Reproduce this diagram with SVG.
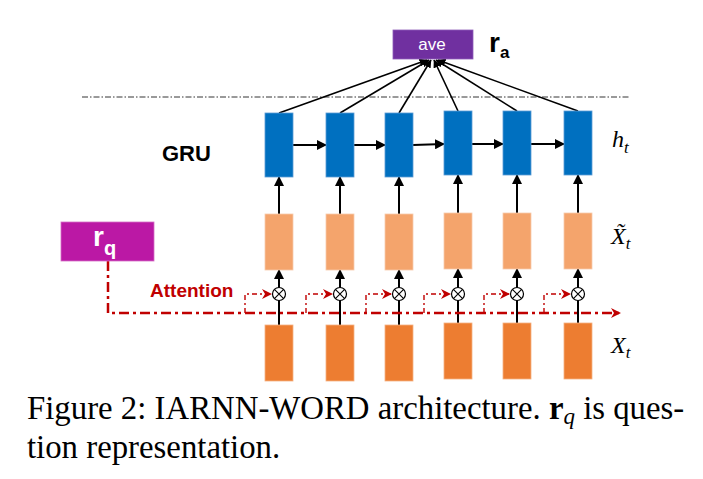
<svg xmlns="http://www.w3.org/2000/svg" width="703" height="479" viewBox="0 0 703 479">
<style>
.blue{fill:#0070C0;stroke:#5B9BD5;stroke-width:0.8}
.light{fill:#F4A46C;stroke:#F8CBAD;stroke-width:0.8}
.dark{fill:#ED7D31;stroke:#F4B183;stroke-width:0.8}
.blk{stroke:#000;stroke-width:2;fill:none}
.thin{stroke:#000;stroke-width:1.6;fill:none}
.red{stroke:#C00000;stroke-width:2.5;fill:none;stroke-dasharray:10 4 3 4}
.redb{stroke:#C00000;stroke-width:1.4;fill:none;stroke-dasharray:5 3 2 3}
.mul{fill:#fff;stroke:#000;stroke-width:1.2}
.sans{font-family:"Liberation Sans",Arial,sans-serif}
.math{font-family:"Liberation Serif","Times New Roman",serif;font-style:italic}
.cap{font-family:"Liberation Serif","Times New Roman",serif;font-size:32.8px;fill:#000}
</style>
<defs>
<marker id="ah" markerWidth="10" markerHeight="10" refX="9" refY="5" orient="auto" markerUnits="userSpaceOnUse">
<path d="M0,0 L10,5 L0,10 z" fill="#000"/>
</marker>
<marker id="ahs" markerWidth="8" markerHeight="8" refX="7.5" refY="4" orient="auto" markerUnits="userSpaceOnUse">
<path d="M0,0 L8,4 L0,8 z" fill="#000"/>
</marker>
<marker id="rah" markerWidth="11" markerHeight="10" refX="10" refY="5" orient="auto" markerUnits="userSpaceOnUse">
<path d="M0,0 L10,5 L0,10 L3,5 z" fill="#C00000"/>
</marker>
<g id="mulsym">
<circle class="mul" cx="0" cy="0" r="6.5"/>
<path d="M-4.6,-4.6 L4.6,4.6 M4.6,-4.6 L-4.6,4.6" stroke="#000" stroke-width="1.1"/>
</g>
</defs>
<rect width="703" height="479" fill="#fff"/>

<line x1="82" y1="97" x2="630" y2="97" stroke="#000" stroke-width="0.8" stroke-dasharray="6 2 1.5 2"/>

<g id="connectors">
<line class="thin" x1="279" y1="113" x2="427" y2="60" marker-end="url(#ahs)"/>
<line class="thin" x1="340" y1="113" x2="429" y2="60" marker-end="url(#ahs)"/>
<line class="thin" x1="399" y1="113" x2="431" y2="60" marker-end="url(#ahs)"/>
<line class="thin" x1="458" y1="111" x2="434" y2="60" marker-end="url(#ahs)"/>
<line class="thin" x1="517" y1="111" x2="436" y2="60" marker-end="url(#ahs)"/>
<line class="thin" x1="578" y1="111" x2="438" y2="60" marker-end="url(#ahs)"/>
<line class="blk" x1="293" y1="145" x2="326" y2="145" marker-end="url(#ah)"/>
<line class="blk" x1="354" y1="145" x2="385" y2="145" marker-end="url(#ah)"/>
<line class="blk" x1="413" y1="145" x2="444" y2="144" marker-end="url(#ah)"/>
<line class="blk" x1="472" y1="144" x2="503" y2="144" marker-end="url(#ah)"/>
<line class="blk" x1="531" y1="144" x2="564" y2="144" marker-end="url(#ah)"/>
<line class="blk" x1="279" y1="214" x2="279" y2="177" marker-end="url(#ah)"/>
<line class="blk" x1="340" y1="214" x2="340" y2="177" marker-end="url(#ah)"/>
<line class="blk" x1="399" y1="214" x2="399" y2="177" marker-end="url(#ah)"/>
<line class="blk" x1="458" y1="213" x2="458" y2="175" marker-end="url(#ah)"/>
<line class="blk" x1="517" y1="213" x2="517" y2="175" marker-end="url(#ah)"/>
<line class="blk" x1="578" y1="213" x2="578" y2="175" marker-end="url(#ah)"/>
<line class="blk" x1="279" y1="325" x2="279" y2="270" marker-end="url(#ah)"/>
<line class="blk" x1="340" y1="325" x2="340" y2="270" marker-end="url(#ah)"/>
<line class="blk" x1="399" y1="325" x2="399" y2="270" marker-end="url(#ah)"/>
<line class="blk" x1="458" y1="323" x2="458" y2="269" marker-end="url(#ah)"/>
<line class="blk" x1="517" y1="323" x2="517" y2="269" marker-end="url(#ah)"/>
<line class="blk" x1="578" y1="323" x2="578" y2="269" marker-end="url(#ah)"/>
<path class="red" d="M108,261 V313 H621" marker-end="url(#rah)"/>
<path class="redb" d="M245,313 V294 H272" marker-end="url(#rah)"/>
<path class="redb" d="M306,313 V294 H333" marker-end="url(#rah)"/>
<path class="redb" d="M366,313 V294 H392" marker-end="url(#rah)"/>
<path class="redb" d="M424,313 V294 H451" marker-end="url(#rah)"/>
<path class="redb" d="M484,313 V294 H510" marker-end="url(#rah)"/>
<path class="redb" d="M544,313 V294 H571" marker-end="url(#rah)"/>
</g>

<g id="ave">
<rect x="393" y="30" width="80" height="29" fill="#7030A0" stroke="#8E5CB8" stroke-width="0.8"/>
<text x="432" y="50" text-anchor="middle" class="sans" font-size="17" fill="#fff">ave</text>
</g>
<g id="ra-label">
<text x="489" y="52" class="sans" font-size="28" font-weight="bold" fill="#000">r<tspan font-size="17" dy="6">a</tspan></text>
</g>

<g id="gru-label">
<text x="162" y="161" class="sans" font-size="22" font-weight="bold" fill="#000">GRU</text>
</g>

<g id="h-nodes">
<rect class="blue" x="265" y="113" width="28" height="64"/>
<rect class="blue" x="326" y="113" width="28" height="64"/>
<rect class="blue" x="385" y="113" width="28" height="64"/>
<rect class="blue" x="444" y="111" width="28" height="64"/>
<rect class="blue" x="503" y="111" width="28" height="64"/>
<rect class="blue" x="564" y="111" width="28" height="64"/>
</g>
<g id="xt-tilde-nodes">
<rect class="light" x="265" y="214" width="28" height="56"/>
<rect class="light" x="326" y="214" width="28" height="56"/>
<rect class="light" x="385" y="214" width="28" height="56"/>
<rect class="light" x="444" y="213" width="28" height="56"/>
<rect class="light" x="503" y="213" width="28" height="56"/>
<rect class="light" x="564" y="213" width="28" height="56"/>
</g>
<g id="xt-nodes">
<rect class="dark" x="265" y="325" width="28" height="56"/>
<rect class="dark" x="326" y="325" width="28" height="56"/>
<rect class="dark" x="385" y="325" width="28" height="56"/>
<rect class="dark" x="444" y="323" width="28" height="56"/>
<rect class="dark" x="503" y="323" width="28" height="56"/>
<rect class="dark" x="564" y="323" width="28" height="56"/>
</g>
<g id="multiply-nodes">
<use href="#mulsym" x="279" y="294"/>
<use href="#mulsym" x="340" y="294"/>
<use href="#mulsym" x="399" y="294"/>
<use href="#mulsym" x="458" y="294"/>
<use href="#mulsym" x="517" y="294"/>
<use href="#mulsym" x="578" y="294"/>
</g>

<g id="rq">
<rect x="61" y="222" width="93" height="39" fill="#BB18A5" stroke="#D46FC6" stroke-width="0.8"/>
<text x="93" y="246" class="sans" font-size="28" font-weight="bold" fill="#fff">r<tspan font-size="20" dy="9">q</tspan></text>
</g>
<g id="attention-label">
<text x="150" y="297" class="sans" font-size="19" font-weight="bold" fill="#C00000">Attention</text>
</g>

<g id="row-labels">
<text x="612" y="147" class="math" font-size="24" fill="#000">h<tspan font-size="17" dy="6">t</tspan></text>
<text x="611" y="244" class="math" font-size="24" fill="#000">X̃<tspan font-size="17" dy="5">t</tspan></text>
<text x="611" y="353" class="math" font-size="24" fill="#000">X<tspan font-size="17" dy="5">t</tspan></text>
</g>

<g id="caption">
<text x="27" y="419" class="cap">Figure 2: IARNN-WORD architecture. <tspan font-weight="bold">r</tspan><tspan font-style="italic" font-size="23" dy="5">q</tspan><tspan dy="-5"> is ques-</tspan></text>
<text x="27" y="458" class="cap">tion representation.</text>
</g>
</svg>
